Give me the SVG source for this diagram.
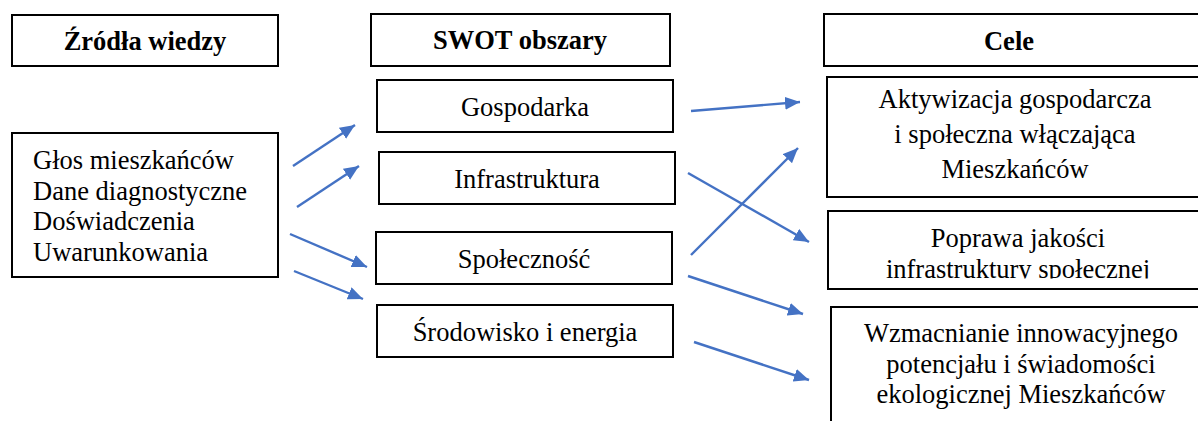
<svg xmlns="http://www.w3.org/2000/svg" width="1198" height="421" viewBox="0 0 1198 421">
<style>
.box{fill:#fff;stroke:#000;stroke-width:2}
.t{font-size:26.5px;fill:#000}
.b{font-weight:bold}
.c{text-anchor:middle}
.arr{stroke:#4472C4;stroke-width:2.4;fill:none;marker-end:url(#ah)}
</style>
<defs>
<marker id="ah" markerUnits="userSpaceOnUse" markerWidth="16" markerHeight="14" refX="15" refY="6.5" orient="auto">
<path d="M0,0 L15,6.5 L0,13 z" fill="#4472C4"/>
</marker>
<clipPath id="clipPoprawa"><rect x="828" y="211" width="400" height="67.5"/></clipPath>
</defs>
<rect width="1198" height="421" fill="#fff"/>
<g font-family="Liberation Serif, DejaVu Serif, serif">
<g id="title-zrodla"><rect class="box" x="12" y="15" width="266" height="51"/><text class="t b c" x="145" y="50">Źródła wiedzy</text></g>
<g id="title-swot"><rect class="box" x="371" y="14" width="299" height="52"/><text class="t b c" x="520" y="49">SWOT obszary</text></g>
<g id="title-cele"><rect class="box" x="824" y="14" width="400" height="52"/><text class="t b c" x="1009" y="50">Cele</text></g>
<g id="zrodla"><rect class="box" x="12" y="133" width="266" height="144"/>
<text class="t" x="33" y="168.5">Głos mieszkańców</text>
<text class="t" x="33" y="199.5">Dane diagnostyczne</text>
<text class="t" x="33" y="230">Doświadczenia</text>
<text class="t" x="33" y="260.5">Uwarunkowania</text></g>
<g id="gospodarka"><rect class="box" x="377" y="80" width="296" height="52"/><text class="t c" x="525" y="116">Gospodarka</text></g>
<g id="infrastruktura"><rect class="box" x="379" y="152" width="296" height="52"/><text class="t c" x="527" y="188">Infrastruktura</text></g>
<g id="spolecznosc"><rect class="box" x="376" y="232" width="296" height="52"/><text class="t c" x="524" y="268">Społeczność</text></g>
<g id="srodowisko"><rect class="box" x="377" y="305" width="296" height="52"/><text class="t c" x="525" y="341">Środowisko i energia</text></g>
<g id="aktywizacja"><rect class="box" x="827" y="77" width="400" height="120"/>
<text class="t c" x="1015" y="108">Aktywizacja gospodarcza</text>
<text class="t c" x="1015" y="143">i społeczna włączająca</text>
<text class="t c" x="1015" y="178">Mieszkańców</text></g>
<g id="poprawa"><rect class="box" x="828" y="211" width="400" height="78"/>
<g clip-path="url(#clipPoprawa)">
<text class="t c" x="1018" y="247">Poprawa jakości</text>
<text class="t c" x="1018" y="278">infrastruktury społecznej</text></g></g>
<g id="wzmacnianie"><rect class="box" x="831" y="307" width="400" height="200"/>
<text class="t c" x="1021" y="342">Wzmacnianie innowacyjnego</text>
<text class="t c" x="1021" y="373">potencjału i świadomości</text>
<text class="t c" x="1021" y="403">ekologicznej Mieszkańców</text></g>
</g>
<g id="connectors">
<line class="arr" x1="293" y1="166" x2="355" y2="125"/>
<line class="arr" x1="297" y1="207" x2="359" y2="166"/>
<line class="arr" x1="290" y1="234" x2="367" y2="267"/>
<line class="arr" x1="294" y1="271" x2="363" y2="299"/>
<line class="arr" x1="691" y1="111" x2="800" y2="102"/>
<line class="arr" x1="688" y1="173" x2="809" y2="242"/>
<line class="arr" x1="691" y1="255" x2="798" y2="148"/>
<line class="arr" x1="688" y1="276" x2="803" y2="314"/>
<line class="arr" x1="694" y1="342" x2="809" y2="380"/>
</g>
</svg>
